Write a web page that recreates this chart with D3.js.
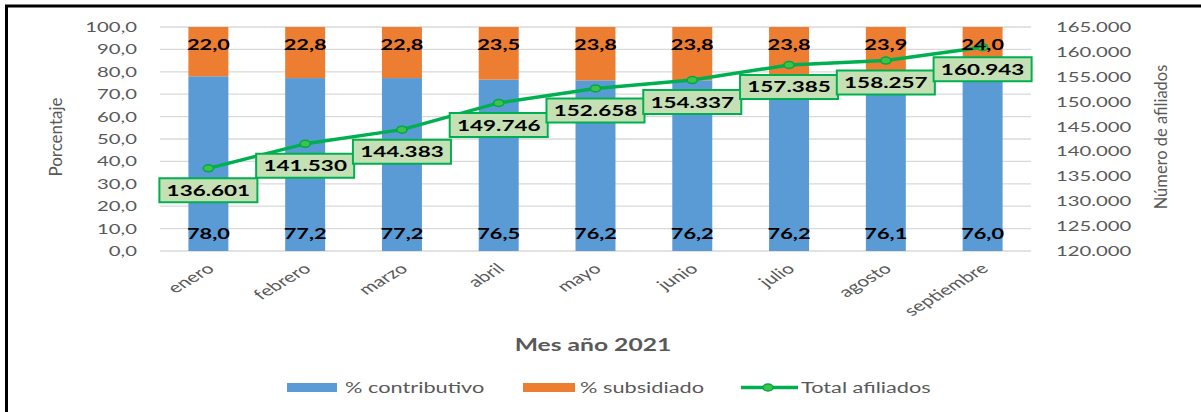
<!DOCTYPE html>
<html>
<head>
<meta charset="utf-8">
<script src="https://cdn.jsdelivr.net/npm/d3@7"></script>
<style>
  html, body { margin: 0; padding: 0; background: #fff; }
  svg { display: block; }
  text { font-family: Lato, "Open Sans", sans-serif; }
</style>
</head>
<body>
<svg id="chart" width="1201" height="412"></svg>
<script>
const months = ["enero","febrero","marzo","abril","mayo","junio","julio","agosto","septiembre"];
const contributivo = [78.0, 77.2, 77.2, 76.5, 76.2, 76.2, 76.2, 76.1, 76.0];
const subsidiado = [22.0, 22.8, 22.8, 23.5, 23.8, 23.8, 23.8, 23.9, 24.0];
const afiliados = [136601, 141530, 144383, 149746, 152658, 154337, 157385, 158257, 160943];
const leftTicks = [0, 10, 20, 30, 40, 50, 60, 70, 80, 90, 100];
const rightTicks = [120000, 125000, 130000, 135000, 140000, 145000, 150000, 155000, 160000, 165000];
const legendLabels = ["% contributivo", "% subsidiado", "Total afiliados"];

const COL_BLUE = "#5B9BD5", COL_ORANGE = "#ED7D31", COL_GREEN = "#00B050";
const GREY = "#595959";

const loc = d3.formatLocale({decimal: ",", thousands: ".", grouping: [3], currency: ["$", ""]});
const fmt1 = loc.format(".1f");
const fmtInt = loc.format(",d");

const S = 1.45; // horizontal stretch of the picture
const svg = d3.select("#chart");
svg.append("rect").attr("width", 1201).attr("height", 412).attr("fill", "#fff");

const g = svg.append("g").attr("transform", `scale(${S},1)`);

const x = d3.scaleBand().domain(months).range([160 / S, 1031 / S]).paddingInner(0.587).paddingOuter(0.2935);
const y = d3.scaleLinear().domain([0, 100]).range([251, 27]);
const y2 = d3.scaleLinear().domain([120000, 165000]).range([251, 27]);
const cx = m => x(m) + x.bandwidth() / 2;

// gridlines
g.append("g").selectAll("line").data(leftTicks).join("line")
  .attr("x1", 160 / S).attr("x2", 1031 / S)
  .attr("y1", d => y(d)).attr("y2", d => y(d))
  .attr("stroke", "#D9D9D9").attr("stroke-width", 1.3);

// left axis
const ax1 = g.append("g").attr("transform", `translate(${137 / S},0)`)
  .call(d3.axisLeft(y).tickValues(leftTicks).tickFormat(fmt1).tickSize(0).tickPadding(0));
ax1.select(".domain").remove();
ax1.attr("font-family", null).attr("font-size", null);
ax1.selectAll("text").attr("font-size", 14).attr("fill", GREY).attr("font-family", "Lato");

// right axis
const ax2 = g.append("g").attr("transform", `translate(${1056 / S},0)`)
  .call(d3.axisRight(y2).tickValues(rightTicks).tickFormat(fmtInt).tickSize(0).tickPadding(0));
ax2.select(".domain").remove();
ax2.attr("font-family", null).attr("font-size", null);
ax2.selectAll("text").attr("font-size", 14).attr("fill", GREY).attr("font-family", "Lato");

// bars
const rows = months.map((m, i) => ({m, c: contributivo[i], s: subsidiado[i], a: afiliados[i]}));
g.append("g").selectAll("rect").data(rows).join("rect")
  .attr("x", d => x(d.m)).attr("width", x.bandwidth())
  .attr("y", d => y(d.c)).attr("height", d => y(0) - y(d.c))
  .attr("fill", COL_BLUE);
g.append("g").selectAll("rect").data(rows).join("rect")
  .attr("x", d => x(d.m)).attr("width", x.bandwidth())
  .attr("y", d => y(d.c + d.s)).attr("height", d => y(d.c) - y(d.c + d.s))
  .attr("fill", COL_ORANGE);

// x labels
g.append("g").selectAll("text").data(months).join("text")
  .attr("transform", d => `translate(${cx(d) + 7 / S},270) rotate(-41)`)
  .attr("text-anchor", "end")
  .attr("font-size", 14.5).attr("fill", GREY)
  .text(d => d);

// line
const line = d3.line().x(d => cx(d.m)).y(d => y2(d.a));
g.append("path").datum(rows).attr("d", line)
  .attr("fill", "none").attr("stroke", COL_GREEN).attr("stroke-width", 3.5)
  .attr("vector-effect", "non-scaling-stroke").attr("stroke-linejoin", "round");
g.append("g").selectAll("circle").data(rows).join("circle")
  .attr("cx", d => cx(d.m)).attr("cy", d => y2(d.a)).attr("r", 3.5)
  .attr("fill", "#3FC24A").attr("stroke", "#00A846").attr("stroke-width", 1.5)
  .attr("vector-effect", "non-scaling-stroke");

// bar labels
g.append("g").selectAll("text").data(rows).join("text")
  .attr("x", d => cx(d.m)).attr("y", d => y(0) - 12)
  .attr("text-anchor", "middle").attr("font-size", 15).attr("font-weight", "bold").attr("fill", "#000")
  .text(d => fmt1(d.c));
g.append("g").selectAll("text").data(rows).join("text")
  .attr("x", d => cx(d.m)).attr("y", d => y(d.c + d.s) + 23)
  .attr("text-anchor", "middle").attr("font-size", 15).attr("font-weight", "bold").attr("fill", "#000")
  .text(d => fmt1(d.s));

// point labels
const pl = g.append("g").selectAll("g").data(rows).join("g")
  .attr("transform", d => `translate(${cx(d.m)},${y2(d.a) + 22})`);
pl.append("rect").attr("class", "box");
pl.append("text")
  .attr("text-anchor", "middle").attr("dy", "0.36em")
  .attr("font-size", 15.5).attr("font-weight", "bold").attr("fill", "#000")
  .text(d => fmtInt(d.a));
pl.each(function() {
  const t = d3.select(this).select("text").node().getBBox();
  d3.select(this).select("rect")
    .attr("x", -t.width / 2 - 5).attr("width", t.width + 10)
    .attr("y", -12).attr("height", 24)
    .attr("fill", "#C5E0B4").attr("stroke", COL_GREEN).attr("stroke-width", 2)
    .attr("vector-effect", "non-scaling-stroke");
});

// x axis title
g.append("text").attr("x", 593 / S).attr("y", 351)
  .attr("text-anchor", "middle").attr("font-size", 17).attr("font-weight", "bold").attr("fill", GREY)
  .text("Mes año 2021");

// legend
const lg = g.append("g");
lg.append("rect").attr("x", 287 / S).attr("y", 383).attr("width", 50 / S).attr("height", 9).attr("fill", COL_BLUE);
lg.append("rect").attr("x", 523 / S).attr("y", 383).attr("width", 52 / S).attr("height", 9).attr("fill", COL_ORANGE);
lg.append("line").attr("x1", 741 / S).attr("x2", 798 / S).attr("y1", 387.5).attr("y2", 387.5)
  .attr("stroke", COL_GREEN).attr("stroke-width", 3.5).attr("vector-effect", "non-scaling-stroke");
lg.append("circle").attr("cx", 768 / S).attr("cy", 387.5).attr("r", 3.5)
  .attr("fill", "#3FC24A").attr("stroke", "#00A846").attr("stroke-width", 1.5)
  .attr("vector-effect", "non-scaling-stroke");
const lx = [345, 580, 801];
lg.selectAll("text.lt").data(legendLabels).join("text").attr("class", "lt")
  .attr("x", (d, i) => lx[i] / S).attr("y", 387.5).attr("dy", "0.36em")
  .attr("font-size", 15).attr("fill", GREY)
  .text(d => d);

// vertical axis titles (not stretched)
svg.append("text").attr("transform", "translate(62,137) rotate(-90)")
  .attr("text-anchor", "middle").attr("font-size", 17).attr("fill", GREY)
  .text("Porcentaje");
svg.append("text").attr("transform", "translate(1167,137) rotate(-90)")
  .attr("text-anchor", "middle").attr("font-size", 16.5).attr("fill", GREY)
  .text("Número de afiliados");

// frame (top and left edges)
svg.append("path").attr("d", "M6.5,412 L6.5,6 L1201,6")
  .attr("fill", "none").attr("stroke", "#000").attr("stroke-width", 3);
</script>
</body>
</html>
